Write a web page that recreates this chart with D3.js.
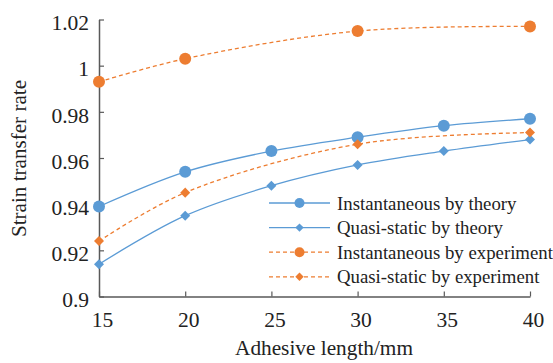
<!DOCTYPE html>
<html>
<head>
<meta charset="utf-8">
<script src="https://cdn.jsdelivr.net/npm/d3@7"></script>
<style>
  body { margin: 0; background: #fff; }
  svg { font-family: "Liberation Serif", "Times New Roman", serif; }
</style>
</head>
<body>
<svg id="chart" width="553" height="363"></svg>
<script>
var width = 553;
var height = 363;

// adhesive length (mm)
var lengthsTheory = [15, 20, 25, 30, 35, 40];
var lengthsExp = [15, 20, 30, 40];

var instTheory = [0.939, 0.954, 0.963, 0.969, 0.974, 0.977];
var quasiTheory = [0.914, 0.935, 0.948, 0.957, 0.963, 0.968];
var instExp = [0.993, 1.003, 1.015, 1.017];
var quasiExp = [0.924, 0.945, 0.966, 0.971];

var xTicks = [15, 20, 25, 30, 35, 40];
var yTicks = [0.9, 0.92, 0.94, 0.96, 0.98, 1, 1.02];

var seriesNames = ["Instantaneous by theory", "Quasi-static by theory",
    "Instantaneous by experiment", "Quasi-static by experiment"];

var blue = "#5b9bd5";
var orange = "#ed7d31";

var series = [
    { name: seriesNames[0], xs: lengthsTheory, ys: instTheory, color: blue, dash: null, shape: "circle" },
    { name: seriesNames[1], xs: lengthsTheory, ys: quasiTheory, color: blue, dash: null, shape: "diamond" },
    { name: seriesNames[2], xs: lengthsExp, ys: instExp, color: orange, dash: "4,3", shape: "circle" },
    { name: seriesNames[3], xs: lengthsExp, ys: quasiExp, color: orange, dash: "4,3", shape: "diamond" }
];

var x = d3.scaleLinear().domain([15, 40]).range([99, 530]);
var y = d3.scaleLinear().domain([0.9, 1.02]).range([296.5, 19.5]);

var svg = d3.select("svg#chart");

var axisColor = "#595959";
var textColor = "#222";

// x axis
var xAxis = svg.append("g")
    .attr("transform", `translate(0,${y(0.9)})`)
    .call(d3.axisBottom(x).tickValues(xTicks).tickSizeInner(-5).tickSizeOuter(0).tickPadding(15));
// y axis
var yAxis = svg.append("g")
    .attr("transform", `translate(${x(15)},0)`)
    .call(d3.axisLeft(y).tickValues(yTicks).tickSizeInner(-5).tickSizeOuter(0).tickPadding(10)
        .tickFormat(d => d3.format("")(+d.toFixed(2))));

[xAxis, yAxis].forEach(function (a) {
    a.select(".domain").attr("stroke", axisColor).attr("stroke-width", 1.5);
    a.selectAll(".tick line").attr("stroke", axisColor).attr("stroke-width", 1.2);
    a.selectAll(".tick text")
        .attr("fill", textColor)
        .style("font-size", "21.5px")
        .style("font-family", "Liberation Serif, serif");
});
xAxis.selectAll(".tick text").attr("dy", "0.71em").attr("x", 3);
yAxis.selectAll(".tick text").attr("dy", "0.48em");

// axis titles (the source glyphs are a bit condensed, so squeeze with textLength)
svg.append("text")
    .attr("x", 324)
    .attr("y", 355)
    .attr("text-anchor", "middle")
    .attr("fill", textColor)
    .attr("textLength", 178)
    .attr("lengthAdjust", "spacingAndGlyphs")
    .style("font-size", "22px")
    .text("Adhesive length/mm");

svg.append("text")
    .attr("transform", "translate(26,158.5) rotate(-90)")
    .attr("text-anchor", "middle")
    .attr("fill", textColor)
    .attr("textLength", 157)
    .attr("lengthAdjust", "spacingAndGlyphs")
    .style("font-size", "21px")
    .text("Strain transfer rate");

var line = d3.line()
    .x(d => x(d[0]))
    .y(d => y(d[1]))
    .curve(d3.curveCatmullRom.alpha(0.5));

var diamond = d3.symbol().type(d3.symbolDiamond2);

function drawMarker(g, shape, color, cx, cy, big) {
    if (shape == "circle") {
        g.append("circle")
            .attr("cx", cx).attr("cy", cy)
            .attr("r", big ? 6 : 5)
            .attr("fill", color);
    } else {
        g.append("path")
            .attr("transform", `translate(${cx},${cy})`)
            .attr("d", diamond.size(big ? 64 : 45)())
            .attr("fill", color);
    }
}

series.forEach(function (s) {
    var pts = s.xs.map((v, i) => [v, s.ys[i]]);
    var g = svg.append("g");
    g.append("path")
        .datum(pts)
        .attr("fill", "none")
        .attr("stroke", s.color)
        .attr("stroke-width", 1.3)
        .attr("stroke-dasharray", s.dash)
        .attr("d", line);
    pts.forEach(function (p) {
        drawMarker(g, s.shape, s.color, x(p[0]), y(p[1]), true);
    });
});

// legend
var legend = svg.append("g").attr("transform", "translate(269,203)");
series.forEach(function (s, i) {
    var row = legend.append("g").attr("transform", `translate(0,${i * 24.6})`);
    row.append("line")
        .attr("x1", 0).attr("x2", 61)
        .attr("stroke", s.color)
        .attr("stroke-width", 1.3)
        .attr("stroke-dasharray", s.dash);
    drawMarker(row, s.shape, s.color, 30.5, 0, false);
    row.append("text")
        .attr("x", 68)
        .attr("dy", "0.35em")
        .attr("fill", textColor)
        .style("font-size", "18.8px")
        .text(s.name);
});
</script>
</body>
</html>
